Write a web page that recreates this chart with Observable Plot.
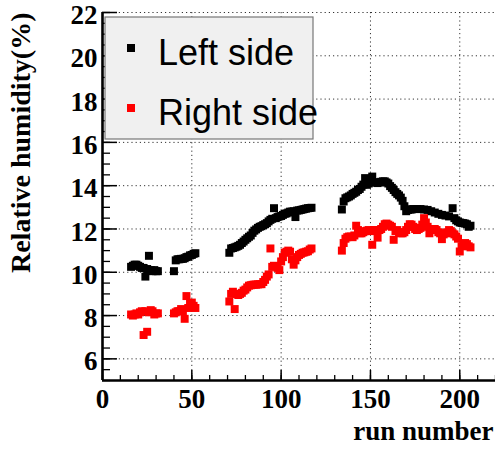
<!DOCTYPE html>
<html>
<head>
<meta charset="utf-8">
<script src="https://cdn.jsdelivr.net/npm/d3@7"></script>
<script src="https://cdn.jsdelivr.net/npm/@observablehq/plot@0.6"></script>
<style>
  body { margin: 0; background: #fff; }
  #chart { position: relative; width: 495px; height: 450px; }
</style>
</head>
<body>
<div id="chart"></div>
<script>
// ---- Data ----
const leftRun = [16,17,18,19,20,21,22,23,24,25,26,27,28,29,30,31,
  40,41,42,43,44,45,46,47,48,49,50,51,52,
  71,72,73,74,75,76,77,78,79,80,81,82,83,84,85,86,87,88,89,90,91,92,93,94,95,96,97,98,99,100,101,102,103,104,105,106,107,108,109,110,111,112,113,114,115,116,117,
  134,135,136,137,138,139,140,141,142,143,144,145,146,147,148,149,150,151,152,153,154,155,156,157,158,159,160,161,162,163,164,165,166,167,168,169,170,171,172,173,174,176,178,180,182,184,186,188,190,192,194,196,197,198,199,200,201,202,203,204,205,206];
const leftRH = [10.25,10.3,10.35,10.35,10.3,10.25,10.2,10.2,9.8,10.15,10.76,10.1,10.05,10.1,10.05,10.05,
  10.05,10.55,10.6,10.6,10.62,10.62,10.65,10.7,10.72,10.78,10.8,10.85,10.88,
  10.9,11.1,11.12,11.15,11.18,11.22,11.27,11.35,11.42,11.5,11.57,11.64,11.7,11.82,11.92,11.98,12.05,12.1,12.13,12.18,12.22,12.27,12.35,12.42,12.47,12.96,12.5,12.55,12.58,12.6,12.65,12.7,12.72,12.76,12.8,12.8,12.82,12.55,12.85,12.86,12.88,12.9,12.92,12.94,12.96,12.97,12.98,
  12.9,13.27,13.42,13.46,13.5,13.55,13.62,13.67,13.72,13.8,13.85,13.95,14.05,14.35,14.04,14.1,14.2,14.42,14.15,14.15,14.12,14.15,14.18,14.2,14.2,14.15,14.1,13.98,13.9,13.8,13.7,13.62,13.55,13.45,13.3,13.05,12.82,12.88,12.9,12.9,12.92,12.92,12.92,12.9,12.88,12.82,12.76,12.7,12.65,12.62,12.58,12.96,12.5,12.4,12.35,12.3,12.28,12.27,12.25,12.22,12.1,12.15];

const rightRun = [16,17,18,19,20,21,22,23,24,25,26,27,28,29,30,31,
  40,41,42,43,44,45,46,47,48,49,50,51,52,
  71,72,73,74,75,76,77,78,79,80,81,82,83,84,85,86,87,88,89,90,91,92,93,94,95,96,97,98,99,100,101,102,103,104,105,106,107,108,109,110,111,112,113,114,115,116,117,
  134,135,136,137,138,139,140,141,142,143,144,145,146,147,148,149,150,151,152,153,154,155,156,157,158,159,160,161,162,163,164,165,166,167,168,169,170,171,172,173,174,175,176,177,178,179,180,181,182,183,184,185,186,187,188,189,190,191,192,193,194,195,196,197,198,199,200,201,202,203,204,205,206];
const rightRH = [8.05,8.0,8.05,8.1,8.05,8.15,8.2,7.1,8.2,7.25,8.15,8.25,8.2,8.05,8.1,8.1,
  8.1,8.15,8.2,8.2,8.3,8.2,7.85,8.9,8.35,8.55,8.6,8.45,8.35,
  8.65,9.0,9.1,8.3,9.0,8.95,9.0,9.05,9.15,9.2,9.3,9.38,9.4,9.42,9.43,9.43,9.44,9.45,9.45,9.55,9.65,9.8,9.9,11.1,10.25,10.3,10.28,10.2,10.1,10.5,10.7,10.9,10.95,11.0,10.95,10.6,10.35,10.55,10.7,10.8,10.85,10.9,10.92,10.95,10.97,11.05,11.1,
  11.0,11.35,11.55,11.62,11.65,11.65,11.62,11.7,12.15,11.95,11.8,11.8,11.85,11.9,11.92,11.95,11.9,11.27,11.95,11.95,11.6,11.95,12.0,12.1,12.22,12.25,12.2,12.15,12.1,11.5,11.9,11.95,11.85,11.8,11.8,11.85,11.95,12.1,12.22,12.2,12.1,12.0,11.95,12.0,12.05,12.2,12.5,12.3,12.1,11.8,11.95,11.95,12.0,11.95,11.85,11.8,11.53,11.75,11.8,11.85,11.95,11.9,11.8,11.75,11.65,11.55,10.96,11.2,11.3,11.35,11.3,11.2,11.15];

const seriesNames = ["Left side", "Right side"];
const seriesColors = ["#000000", "#ff0000"];
const xMajorTicks = [0, 50, 100, 150, 200];
const yMajorTicks = [6, 8, 10, 12, 14, 16, 18, 20, 22];
const xTitle = "run number";
const yTitle = "Relative humidity(%)";

// ---- Build table ----
const rows = [
  ...leftRun.map((r, i) => ({run: r, rh: leftRH[i], side: seriesNames[0]})),
  ...rightRun.map((r, i) => ({run: r, rh: rightRH[i], side: seriesNames[1]}))
];

const W = 495, H = 450;
const mL = 102, mR = 0, mT = 12, mB = 70;
const plotW = W - mL - mR, plotH = H - mT - mB;
const serif = "'Liberation Serif', 'Times New Roman', serif";
const sans = "'Liberation Sans', Arial, Helvetica, sans-serif";

const xMinor = d3.range(0, 221, 10);
const yMinor = d3.range(5, 22.01, 0.5);

const chart = Plot.plot({
  width: W, height: H,
  marginLeft: mL, marginRight: mR, marginTop: mT, marginBottom: mB,
  style: {fontFamily: serif, background: "#fff", overflow: "visible"},
  x: {domain: [0, 220]},
  y: {domain: [5, 22]},
  color: {domain: seriesNames, range: seriesColors},
  marks: [
    Plot.gridX([50, 100, 150, 200, 220], {stroke: "#000", strokeOpacity: 0.8, strokeDasharray: "1.2,3"}),
    Plot.gridY(yMajorTicks, {stroke: "#000", strokeOpacity: 0.8, strokeDasharray: "1.2,3"}),
    // inward ticks
    Plot.tickX(xMinor, {x: d => d, insetTop: plotH - 5, stroke: "#000", strokeWidth: 1.3}),
    Plot.tickX(xMajorTicks, {x: d => d, insetTop: plotH - 10, stroke: "#000", strokeWidth: 1.5}),
    Plot.tickY(yMinor, {y: d => d, insetRight: plotW - 8, stroke: "#000", strokeWidth: 1.3}),
    Plot.tickY(yMajorTicks, {y: d => d, insetRight: plotW - 15, stroke: "#000", strokeWidth: 1.5}),
    // tick labels
    Plot.axisX({ticks: xMajorTicks, tickSize: 0, tickPadding: 8, fontSize: 27, fontWeight: "bold", fontFamily: serif, label: null}),
    Plot.axisY({ticks: yMajorTicks, tickSize: 0, tickPadding: 5, dy: 3, fontSize: 27, fontWeight: "bold", fontFamily: serif, label: null}),
    // data
    Plot.dot(rows, {x: "run", y: "rh", fill: "side", symbol: "square", r: 4.5}),
    // axis lines
    Plot.ruleX([0], {stroke: "#000", strokeWidth: 2.6}),
    Plot.ruleY([5], {stroke: "#000", strokeWidth: 2.6}),
    // axis titles
    Plot.text([xTitle], {frameAnchor: "bottom-right", dx: -2, dy: 51, textAnchor: "end", lineAnchor: "middle",
      fontSize: 27, fontWeight: "bold", fontFamily: serif, fill: "#000"}),
    Plot.text([yTitle], {frameAnchor: "top-left", dx: -81, dy: 0, rotate: -90, textAnchor: "end", lineAnchor: "middle",
      fontSize: 28, fontWeight: "bold", fontFamily: serif, fill: "#000"})
  ]
});

document.getElementById("chart").appendChild(chart);

// ---- Legend box drawn inside the SVG (ROOT-style TLegend) ----
const svg = d3.select(chart);
const lg = svg.append("g").attr("transform", "translate(105,17)").attr("text-anchor", "start");
lg.append("rect").attr("width", 208).attr("height", 122)
  .attr("fill", "#f0f0f0").attr("stroke", "#777").attr("stroke-width", 1.2);
seriesNames.forEach((name, i) => {
  const cy = 31 + i * 60;
  lg.append("rect").attr("x", 26 - 4).attr("y", cy - 4).attr("width", 8).attr("height", 8)
    .attr("fill", seriesColors[i]);
  lg.append("text").attr("x", 53).attr("y", cy + 17)
    .attr("text-anchor", "start")
    .attr("font-family", sans).attr("font-size", 36).attr("fill", "#000")
    .text(name);
});
</script>
</body>
</html>
